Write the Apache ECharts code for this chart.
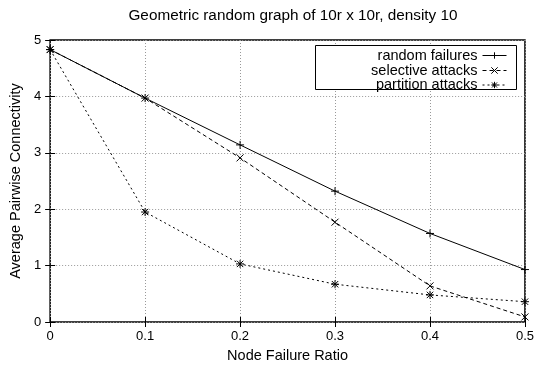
<!DOCTYPE html>
<html>
<head>
<meta charset="utf-8">
<script src="https://cdn.jsdelivr.net/npm/echarts@6/dist/echarts.min.js"></script>
<style>
  html, body { margin: 0; padding: 0; background: #fff; }
  #chart { width: 537px; height: 372px; }
</style>
</head>
<body>
<div id="chart"></div>
<script>
// Node failure ratios on the x axis
const failureRatios = [0, 0.1, 0.2, 0.3, 0.4, 0.5];
// Average pairwise connectivity for each failure model
const randomFailures = [4.83, 3.97, 3.14, 2.32, 1.57, 0.93];
const selectiveAttacks = [4.83, 3.97, 2.91, 1.77, 0.64, 0.09];
const partitionAttacks = [4.83, 1.95, 1.03, 0.67, 0.48, 0.36];
const seriesNames = ['random failures', 'selective attacks', 'partition attacks'];

const FONT = 'Liberation Sans, Arial, Helvetica, sans-serif';

// Marker shapes drawn as stroked paths
const plusPath = 'path://M0,5L10,5M5,0L5,10';
const crossPath = 'path://M0,0L10,10M10,0L0,10';
const starPath = 'path://M0,5L10,5M5,0L5,10M1,1L9,9M9,1L1,9';

function pairs(ys) {
  return failureRatios.map((x, i) => [x, ys[i]]);
}

function makeSeries(name, ys, lineType, symbol, size) {
  return {
    name: name,
    type: 'line',
    data: pairs(ys),
    symbol: symbol,
    symbolSize: size,
    showSymbol: true,
    lineStyle: { color: '#000', width: 1, type: lineType },
    itemStyle: { color: 'rgba(0,0,0,0)', borderColor: '#000', borderWidth: 1 },
    emphasis: { disabled: true },
    animation: false
  };
}

// One legend block per series so each row is right-aligned
const legendRows = [55.5, 70.5, 85];
const legends = seriesNames.map((n, i) => ({
  data: [n],
  right: 30,
  top: legendRows[i] - 8,
  padding: 0,
  align: 'right',
  itemWidth: 24,
  itemHeight: 8,
  selectedMode: false,
  itemStyle: { color: 'rgba(0,0,0,0)', borderColor: '#000', borderWidth: 1 },
  lineStyle: { color: '#000', width: 1 },
  textStyle: { fontFamily: FONT, fontSize: 14.5, color: '#000', lineHeight: 16 }
}));

const chart = echarts.init(document.getElementById('chart'), null, { renderer: 'canvas' });
chart.setOption({
  backgroundColor: '#fff',
  animation: false,
  title: {
    text: 'Geometric random graph of 10r x 10r, density 10',
    left: 288,
    textAlign: 'center',
    top: 3,
    textStyle: { fontFamily: FONT, fontSize: 15.3, fontWeight: 'normal', color: '#000' }
  },
  legend: legends,
  grid: {
    left: 50, right: 11, top: 40, bottom: 50,
    show: true, borderColor: '#000', borderWidth: 1.5, backgroundColor: 'transparent'
  },
  xAxis: [{
    type: 'value', min: 0, max: 0.5, interval: 0.1,
    name: 'Node Failure Ratio', nameLocation: 'middle', nameGap: 26,
    nameTextStyle: { fontFamily: FONT, fontSize: 14.5, color: '#000' },
    axisLine: { show: false },
    axisTick: { show: true, inside: true, length: 5, lineStyle: { color: '#000' } },
    axisLabel: { fontFamily: FONT, fontSize: 13, color: '#000', margin: 8,
      formatter: v => String(Math.round(v * 10) / 10) },
    splitLine: { show: true, lineStyle: { color: '#999', type: [1, 2], width: 1 } }
  }, {
    type: 'value', position: 'top', min: 0, max: 0.5, interval: 0.1,
    axisLine: { show: false }, axisLabel: { show: false }, splitLine: { show: false },
    axisTick: { show: true, inside: true, length: 5, lineStyle: { color: '#000' } }
  }],
  yAxis: [{
    type: 'value', min: 0, max: 5, interval: 1,
    name: 'Average Pairwise Connectivity', nameLocation: 'middle', nameGap: 25,
    nameTextStyle: { fontFamily: FONT, fontSize: 14.5, color: '#000' },
    axisLine: { show: false },
    axisTick: { show: true, inside: true, length: 5, lineStyle: { color: '#000' } },
    axisLabel: { fontFamily: FONT, fontSize: 13, color: '#000', margin: 9 },
    splitLine: { show: true, lineStyle: { color: '#999', type: [1, 2], width: 1 } }
  }, {
    type: 'value', position: 'right', min: 0, max: 5, interval: 1,
    axisLine: { show: false }, axisLabel: { show: false }, splitLine: { show: false },
    axisTick: { show: true, inside: true, length: 5, lineStyle: { color: '#000' } }
  }],
  series: [
    makeSeries(seriesNames[0], randomFailures, 'solid', plusPath, 8),
    makeSeries(seriesNames[1], selectiveAttacks, [4, 3], crossPath, 7),
    makeSeries(seriesNames[2], partitionAttacks, [2, 3], starPath, 8)
  ],
  graphic: [{
    type: 'rect',
    shape: { x: 315.5, y: 45.5, width: 201, height: 44 },
    style: { fill: '#fff', stroke: '#000', lineWidth: 1 },
    z: 3, zlevel: 0
  }]
});
</script>
</body>
</html>
